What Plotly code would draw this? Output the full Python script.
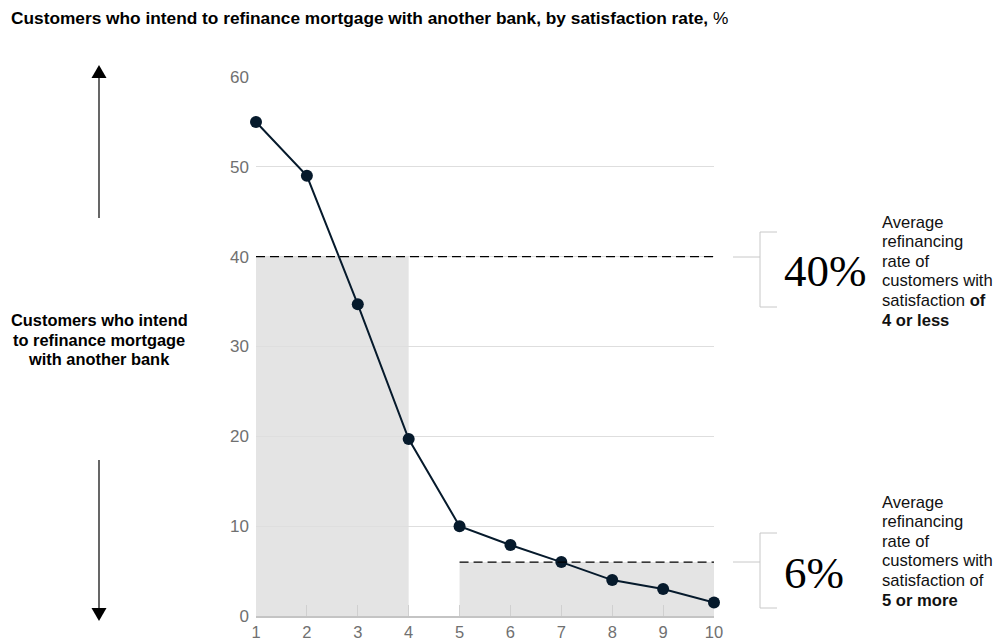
import plotly.graph_objects as go

# Satisfaction score (1-10) and share of customers intending to refinance elsewhere, %
satisfaction = [1, 2, 3, 4, 5, 6, 7, 8, 9, 10]
refinance_pct = [55, 49, 34.7, 19.7, 10, 7.9, 6, 4, 3, 1.5]

# Group averages
low_group = (1, 4)      # satisfaction of 4 or less
high_group = (5, 10)    # satisfaction of 5 or more
avg_low = 40
avg_high = 6

y_ticks = [0, 10, 20, 30, 40, 50, 60]

W, H = 998, 643
M_L, M_R, M_T, M_B = 256, 284, 77, 27
PW, PH = W - M_L - M_R, H - M_T - M_B

NAVY = "#061a2c"
SANS = "Liberation Sans, Arial, sans-serif"


def px(xp):
    """Horizontal pixel position -> paper coordinate."""
    return (xp - M_L) / PW


def py(yp):
    """Vertical pixel position -> paper coordinate."""
    return (H - M_B - yp) / PH


fig = go.Figure()

fig.add_trace(go.Scatter(
    x=satisfaction, y=refinance_pct,
    mode="lines+markers",
    line=dict(color=NAVY, width=2),
    marker=dict(color=NAVY, size=12),
    cliponaxis=False,
    hoverinfo="x+y",
    showlegend=False,
))

shapes = []
# shaded group blocks
shapes.append(dict(type="rect", xref="x", yref="y", x0=low_group[0], x1=low_group[1],
                   y0=0, y1=avg_low, fillcolor="#e4e4e4", line=dict(width=0), layer="below"))
shapes.append(dict(type="rect", xref="x", yref="y", x0=high_group[0], x1=high_group[1],
                   y0=0, y1=avg_high, fillcolor="#e4e4e4", line=dict(width=0), layer="below"))
# dashed average lines
shapes.append(dict(type="line", xref="x", yref="y", x0=low_group[0], x1=high_group[1],
                   y0=avg_low, y1=avg_low, line=dict(color="#000", width=1.3, dash="9px,5px")))
shapes.append(dict(type="line", xref="x", yref="y", x0=high_group[0], x1=high_group[1],
                   y0=avg_high, y1=avg_high, line=dict(color="#000", width=1.3, dash="9px,5px")))

# brackets next to the callouts
BR = "#c8c8c8"
for conn_y, top, bot in [(257, 232, 307), (562, 533, 608)]:
    shapes.append(dict(type="line", xref="paper", yref="paper", x0=px(733), x1=px(760),
                       y0=py(conn_y), y1=py(conn_y), line=dict(color=BR, width=1)))
    shapes.append(dict(type="line", xref="paper", yref="paper", x0=px(760), x1=px(760),
                       y0=py(top), y1=py(bot), line=dict(color=BR, width=1)))
    for yy in (top, bot):
        shapes.append(dict(type="line", xref="paper", yref="paper", x0=px(760), x1=px(777),
                           y0=py(yy), y1=py(yy), line=dict(color=BR, width=1)))

# vertical arrows on the left
AX = 99
shapes.append(dict(type="line", xref="paper", yref="paper", x0=px(AX), x1=px(AX),
                   y0=py(218), y1=py(76), line=dict(color="#000", width=1.2)))
shapes.append(dict(type="path", xref="paper", yref="paper",
                   path=f"M {px(AX)} {py(65)} L {px(AX - 7.5)} {py(78)} L {px(AX + 7.5)} {py(78)} Z",
                   fillcolor="#000", line=dict(width=0)))
shapes.append(dict(type="line", xref="paper", yref="paper", x0=px(AX), x1=px(AX),
                   y0=py(460), y1=py(609), line=dict(color="#000", width=1.2)))
shapes.append(dict(type="path", xref="paper", yref="paper",
                   path=f"M {px(AX)} {py(621)} L {px(AX - 7.5)} {py(608)} L {px(AX + 7.5)} {py(608)} Z",
                   fillcolor="#000", line=dict(width=0)))


def text_block(lines, x, y_first, step, size, anchor, color="#111"):
    """One annotation per line so the line spacing can be set exactly."""
    out = []
    for i, line in enumerate(lines):
        out.append(dict(text=line, xref="paper", yref="paper", x=px(x), y=py(y_first + i * step),
                        xanchor=anchor, yanchor="middle", showarrow=False,
                        font=dict(family=SANS, size=size, color=color)))
    return out


annotations = [
    dict(text="<b>Customers who intend to refinance mortgage with another bank, by satisfaction rate,</b> %",
         xref="paper", yref="paper", x=px(9), y=py(18), xanchor="left", yanchor="middle",
         showarrow=False, font=dict(family=SANS, size=17.3, color="#000")),
    dict(text=f"{avg_low}%", xref="paper", yref="paper", x=px(782), y=py(271),
         xanchor="left", yanchor="middle", showarrow=False,
         font=dict(family="Liberation Serif, DejaVu Serif, serif", size=45, color="#000")),
    dict(text=f"{avg_high}%", xref="paper", yref="paper", x=px(782), y=py(573),
         xanchor="left", yanchor="middle", showarrow=False,
         font=dict(family="Liberation Serif, DejaVu Serif, serif", size=45, color="#000")),
]
annotations += text_block(["<b>Customers who intend</b>", "<b>to refinance mortgage</b>",
                           "<b>with another bank</b>"], AX, 320, 19.5, 16.4, "center", "#000")
annotations += text_block(["Average", "refinancing", "rate of", "customers with",
                           "satisfaction <b>of</b>", "<b>4 or less</b>"], 880, 222, 19.6, 16.6, "left")
annotations += text_block(["Average", "refinancing", "rate of", "customers with",
                           "satisfaction of", "<b>5 or more</b>"], 880, 502, 19.6, 16.6, "left")

fig.update_layout(
    width=W, height=H,
    margin=dict(l=M_L, r=M_R, t=M_T, b=M_B),
    paper_bgcolor="white", plot_bgcolor="white",
    shapes=shapes, annotations=annotations,
    xaxis=dict(
        range=[1, 10], tickvals=satisfaction, showgrid=False, zeroline=False,
        showline=True, linecolor="#c4c4c4", linewidth=1.5, automargin=False,
        ticks="inside", ticklen=11, tickcolor="#d0d0d0", tickwidth=1,
        tickfont=dict(family=SANS, size=16.5, color="#707070"),
    ),
    yaxis=dict(
        range=[0, 60], tickvals=y_ticks, showgrid=True, gridcolor="#dedede", gridwidth=1,
        zeroline=False, showline=False, ticks="", ticklabelstandoff=6, automargin=False,
        tickfont=dict(family=SANS, size=17, color="#707070"),
    ),
)

fig.write_html("out.html")
